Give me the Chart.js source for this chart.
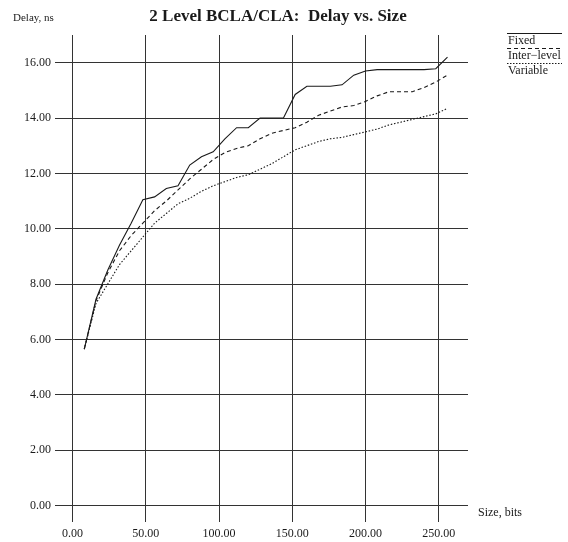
<!DOCTYPE html>
<html>
<head>
<meta charset="utf-8">
<script src="https://cdn.jsdelivr.net/npm/chart.js@4"></script>
<style>
  body { margin: 0; background: #fff; }
  #wrap { width: 568px; height: 542px; }
</style>
</head>
<body>
<div id="wrap"><canvas id="myChart" width="568" height="542"></canvas></div>
<script>
const sizes = [8, 16, 24, 32, 40, 48, 56, 64, 72, 80, 88, 96, 104, 112, 120, 128,
               136, 144, 152, 160, 168, 176, 184, 192, 200, 208, 216, 224, 232, 240, 248, 256];
const fixedDelay = [5.65, 7.45, 8.5, 9.4, 10.2, 11.05, 11.15, 11.45, 11.55, 12.3, 12.6, 12.78, 13.25, 13.65, 13.65, 14.0,
                    14.0, 14.0, 14.85, 15.15, 15.15, 15.15, 15.2, 15.55, 15.7, 15.75, 15.75, 15.75, 15.75, 15.75, 15.78, 16.2];
const interDelay = [5.65, 7.4, 8.4, 9.2, 9.75, 10.2, 10.65, 11.0, 11.4, 11.8, 12.15, 12.5, 12.75, 12.9, 13.0, 13.25,
                    13.45, 13.55, 13.65, 13.85, 14.1, 14.25, 14.4, 14.45, 14.6, 14.8, 14.95, 14.95, 14.95, 15.1, 15.3, 15.55];
const variableDelay = [5.65, 7.3, 8.0, 8.7, 9.2, 9.7, 10.2, 10.55, 10.9, 11.1, 11.35, 11.55, 11.7, 11.85, 11.95, 12.15,
                       12.35, 12.6, 12.85, 13.0, 13.15, 13.25, 13.3, 13.4, 13.5, 13.6, 13.75, 13.85, 13.95, 14.05, 14.15, 14.35];
const xTicks = [0, 50, 100, 150, 200, 250];
const yTicks = [0, 2, 4, 6, 8, 10, 12, 14, 16];

const serif = '"Liberation Serif", "DejaVu Serif", serif';
const ink = '#1a1a1a';

function pts(ys) {
    return sizes.map((s, i) => ({ x: s, y: ys[i] }));
}

// title, axis names and the little legend at the top right
const extras = {
    id: 'extras',
    afterDraw(c) {
        const ctx = c.ctx;
        ctx.save();
        ctx.fillStyle = ink;
        ctx.textBaseline = 'middle';
        ctx.font = 'bold 17px ' + serif;
        ctx.textAlign = 'center';
        ctx.fillText('2 Level BCLA/CLA:  Delay vs. Size', 278, 17);
        ctx.font = '11px ' + serif;
        ctx.textAlign = 'left';
        ctx.fillText('Delay, ns', 13, 18);
        ctx.font = '12px ' + serif;
        ctx.fillText('Size, bits', 478, 513);

        const items = [
            { text: 'Fixed', dash: [], y: 33 },
            { text: 'Inter\u2212level', dash: [4, 3], y: 48 },
            { text: 'Variable', dash: [1.5, 1.5], y: 63 }
        ];
        ctx.strokeStyle = ink;
        ctx.lineWidth = 1;
        items.forEach(it => {
            ctx.setLineDash(it.dash);
            ctx.beginPath();
            ctx.moveTo(507, it.y + 0.5);
            ctx.lineTo(562, it.y + 0.5);
            ctx.stroke();
            ctx.fillText(it.text, 508, it.y + 8);
        });
        ctx.restore();
    }
};

const ctx = document.getElementById('myChart').getContext('2d');
const chart = new Chart(ctx, {
    type: 'line',
    data: {
        datasets: [
            { label: 'Fixed', data: pts(fixedDelay), borderColor: ink, borderWidth: 1.1 },
            { label: 'Inter-level', data: pts(interDelay), borderColor: ink, borderWidth: 1.1, borderDash: [4, 3] },
            { label: 'Variable', data: pts(variableDelay), borderColor: ink, borderWidth: 1.1, borderDash: [1.5, 1.8] }
        ]
    },
    options: {
        responsive: false,
        animation: false,
        elements: { point: { radius: 0 }, line: { tension: 0, fill: false } },
        layout: { padding: { left: 0, right: 100, top: 35, bottom: 0 } },
        plugins: {
            legend: { display: false },
            tooltip: { enabled: false }
        },
        scales: {
            x: {
                type: 'linear',
                min: -12,
                max: 270,
                afterBuildTicks: s => { s.ticks = xTicks.map(v => ({ value: v })); },
                afterFit: s => { s.height = 20; },
                border: { display: false },
                grid: { color: '#333', lineWidth: 1, drawTicks: false },
                ticks: {
                    padding: 5,
                    maxRotation: 0,
                    color: ink,
                    font: { family: serif, size: 12 },
                    callback: v => v.toFixed(2)
                }
            },
            y: {
                min: -0.6,
                max: 17.0,
                afterBuildTicks: s => { s.ticks = yTicks.map(v => ({ value: v })); },
                afterFit: s => { s.width = 55; },
                border: { display: false },
                grid: { color: '#333', lineWidth: 1, drawTicks: false },
                ticks: {
                    padding: 4,
                    color: ink,
                    font: { family: serif, size: 12 },
                    callback: v => v.toFixed(2)
                }
            }
        }
    },
    plugins: [extras]
});
</script>
</body>
</html>
